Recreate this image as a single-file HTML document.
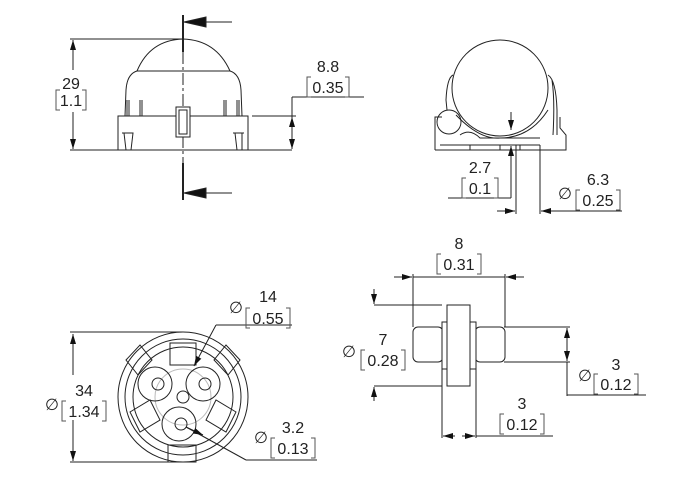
<!DOCTYPE html>
<html><head><meta charset="utf-8"><style>
html,body{margin:0;padding:0;background:#fff;width:700px;height:500px;overflow:hidden}
svg text{font-family:"Liberation Sans",sans-serif;font-size:16px;fill:#222;text-anchor:middle}
</style></head><body>
<svg width="700" height="500" viewBox="0 0 700 500" xmlns="http://www.w3.org/2000/svg">
<defs>
<marker id="a" viewBox="0 0 10 6" refX="10" refY="3" markerWidth="10" markerHeight="6" orient="auto-start-reverse" markerUnits="userSpaceOnUse"><path d="M0,0L10,3L0,6z" fill="#111"/></marker>
</defs>
<g fill="none" stroke="#222" stroke-width="1">
<!-- TOP LEFT VIEW -->
<line x1="183" y1="15" x2="183" y2="52" stroke-width="2"/>
<line x1="183" y1="163" x2="183" y2="200" stroke-width="2"/>
<line x1="183" y1="52" x2="183" y2="163" stroke-dasharray="12,3,3,3"/>
<line x1="232" y1="22" x2="206" y2="22"/><path d="M184,22L206,17L206,27z" fill="#111"/>
<line x1="232" y1="193" x2="206" y2="193"/><path d="M184,193L206,188L206,198z" fill="#111"/>
<path d="M137,71 Q150,40 183,39 Q216,40 230,71 Z"/>
<path d="M137,71 Q127,74 126,90 L125,116 M230,71 Q240,74 241,90 L242,116"/>
<path d="M127,116 L127,100 M129,116 L129,100 M140,116 L140,100 M142,116 L142,100 M224,116 L224,100 M226,116 L226,100 M237,116 L237,100 M239,116 L239,100"/>
<rect x="118" y="116" width="130" height="34"/>
<rect x="176" y="107" width="14" height="30" fill="#fff"/><rect x="179" y="110" width="8" height="24"/>
<path d="M122,133 L133,133 L131,150 M124,133 L126,150 M233,133 L244,133 M242,133 L242,150 M235,133 L237,150"/>
<line x1="70" y1="150" x2="292" y2="150"/>
<line x1="70" y1="39" x2="183" y2="39"/>
<line x1="73" y1="40" x2="73" y2="149" marker-start="url(#a)" marker-end="url(#a)"/>
<line x1="252" y1="116" x2="296" y2="116"/>
<line x1="292" y1="97" x2="364" y2="97"/>
<line x1="292" y1="97" x2="292" y2="149"/>
<line x1="292" y1="135" x2="292" y2="117" marker-end="url(#a)"/>
<line x1="292" y1="135" x2="292" y2="149" marker-end="url(#a)"/>
<!-- TOP RIGHT VIEW -->
<path d="M435,150 L435,117 L442,117 M435,150 L566,150 L566,135 L560,128 L560,117"/>
<path d="M453,75 Q447,78 446,100 L447,110 M548,75 Q556,80 557,110 L557,135 M552,80 Q555,100 553,135"/>
<circle cx="449" cy="122" r="12"/>
<circle cx="500" cy="88" r="48" fill="#fff"/>
<path d="M456,115 Q480,140 500,138 Q530,138 548,110"/>
<path d="M460,135 Q470,128 480,138 L540,138 M440,145 L540,145 M470,145 L470,150 M500,145 L500,150 M520,145 L520,150"/>
<line x1="511" y1="112" x2="511" y2="130" marker-end="url(#a)"/>
<line x1="511" y1="163" x2="511" y2="146" marker-end="url(#a)"/>
<line x1="448" y1="198" x2="511" y2="198"/><line x1="511" y1="163" x2="511" y2="198"/>
<line x1="516" y1="145" x2="516" y2="214"/><line x1="540" y1="145" x2="540" y2="214"/>
<line x1="497" y1="211" x2="515" y2="211" marker-end="url(#a)"/>
<line x1="560" y1="211" x2="541" y2="211" marker-end="url(#a)"/>
<line x1="560" y1="211" x2="622" y2="211"/>
<!-- BOTTOM LEFT VIEW -->
<circle cx="183" cy="397" r="65"/>
<circle cx="183" cy="397" r="58"/>
<circle cx="183" cy="397" r="50"/>
<circle cx="183" cy="397" r="28" stroke="#bbb"/>
<circle cx="155" cy="384" r="17"/><circle cx="158" cy="384" r="6"/>
<circle cx="203" cy="384" r="17"/><circle cx="205" cy="384" r="6"/>
<circle cx="179" cy="424" r="17"/><circle cx="181" cy="424" r="6"/>
<circle cx="183" cy="397" r="6"/>
<rect x="170" y="343" width="26" height="22"/>
<rect x="168" y="445" width="28" height="17"/>
<path d="M126,360 L140,345 L152,360 L138,375 Z M240,360 L226,345 L214,360 L228,375 Z M130,412 L150,400 L160,420 L140,432 Z M236,412 L216,400 L206,420 L226,432 Z"/>
<line x1="73" y1="334" x2="73" y2="461" marker-start="url(#a)" marker-end="url(#a)"/>
<line x1="70" y1="332" x2="183" y2="332"/><line x1="70" y1="462" x2="183" y2="462"/>
<line x1="216" y1="325" x2="292" y2="325"/>
<line x1="216" y1="325" x2="194" y2="366" marker-end="url(#a)"/>
<line x1="246" y1="460" x2="317" y2="460"/>
<line x1="246" y1="460" x2="186" y2="427"/>
<line x1="186" y1="427" x2="203" y2="435" marker-end="url(#a)"/>
<!-- BOTTOM RIGHT VIEW -->
<rect x="413" y="327" width="30" height="35" rx="5" fill="#fff"/>
<rect x="475" y="327" width="30" height="35" rx="5" fill="#fff"/>
<rect x="442" y="322" width="34" height="47" fill="#fff"/>
<rect x="447" y="305" width="23" height="81" fill="#fff"/>
<line x1="413" y1="327" x2="413" y2="274"/><line x1="505" y1="327" x2="505" y2="274"/>
<line x1="394" y1="277" x2="412" y2="277" marker-end="url(#a)"/>
<line x1="524" y1="277" x2="506" y2="277" marker-end="url(#a)"/>
<line x1="413" y1="277" x2="505" y2="277"/>
<line x1="374" y1="305" x2="442" y2="305"/><line x1="374" y1="386" x2="442" y2="386"/>
<line x1="374" y1="289" x2="374" y2="304" marker-end="url(#a)"/>
<line x1="374" y1="401" x2="374" y2="387" marker-end="url(#a)"/>
<line x1="504" y1="327" x2="570" y2="327"/><line x1="504" y1="362" x2="570" y2="362"/>
<line x1="567" y1="345" x2="567" y2="328" marker-end="url(#a)"/>
<line x1="567" y1="345" x2="567" y2="361" marker-end="url(#a)"/>
<line x1="567" y1="362" x2="567" y2="396"/><line x1="567" y1="395" x2="646" y2="395"/>
<line x1="442" y1="369" x2="442" y2="438"/><line x1="476" y1="369" x2="476" y2="438"/>
<line x1="443" y1="436" x2="455" y2="436" marker-start="url(#a)"/>
<line x1="475" y1="436" x2="462" y2="436" marker-start="url(#a)"/>
<line x1="476" y1="436" x2="553" y2="436"/>
</g>
<!-- text backgrounds for dim lines through text -->
<rect x="52" y="70" width="34" height="42" fill="#fff"/>
<rect x="58" y="375" width="52" height="45" fill="#fff"/>
<g stroke="#555" stroke-width="1" fill="none">
<path d="M60,90 h-4 v20 h4 M82,90 h4 v20 h-4"/>
<path d="M311,77 h-4 v20 h4 M345,77 h4 v20 h-4"/>
<path d="M466,178 h-4 v20 h4 M494,178 h4 v20 h-4"/>
<path d="M580,190 h-4 v20 h4 M616,190 h4 v20 h-4"/>
<path d="M66,401 h-4 v20 h4 M102,401 h4 v20 h-4"/>
<path d="M250,308 h-4 v20 h4 M286,308 h4 v20 h-4"/>
<path d="M275,438 h-4 v20 h4 M311,438 h4 v20 h-4"/>
<path d="M441,254 h-4 v20 h4 M477,254 h4 v20 h-4"/>
<path d="M365,350 h-4 v20 h4 M401,350 h4 v20 h-4"/>
<path d="M598,374 h-4 v20 h4 M634,374 h4 v20 h-4"/>
<path d="M504,414 h-4 v20 h4 M540,414 h4 v20 h-4"/>
</g>
<g>
<text x="71" y="89">29</text><text x="71" y="106">1.1</text>
<text x="328" y="72">8.8</text><text x="328" y="93">0.35</text>
<text x="480" y="173">2.7</text><text x="480" y="194">0.1</text>
<text x="565" y="199">∅</text><text x="598" y="185">6.3</text><text x="598" y="206">0.25</text>
<text x="52" y="410">∅</text><text x="84" y="396">34</text><text x="84" y="417">1.34</text>
<text x="236" y="313">∅</text><text x="268" y="302">14</text><text x="268" y="324">0.55</text>
<text x="261" y="443">∅</text><text x="293" y="433">3.2</text><text x="293" y="454">0.13</text>
<text x="459" y="249">8</text><text x="459" y="270">0.31</text>
<text x="349" y="357">∅</text><text x="383" y="345">7</text><text x="383" y="366">0.28</text>
<text x="585" y="381">∅</text><text x="616" y="370">3</text><text x="616" y="390">0.12</text>
<text x="522" y="409">3</text><text x="522" y="430">0.12</text>
</g>
</svg>
</body></html>
